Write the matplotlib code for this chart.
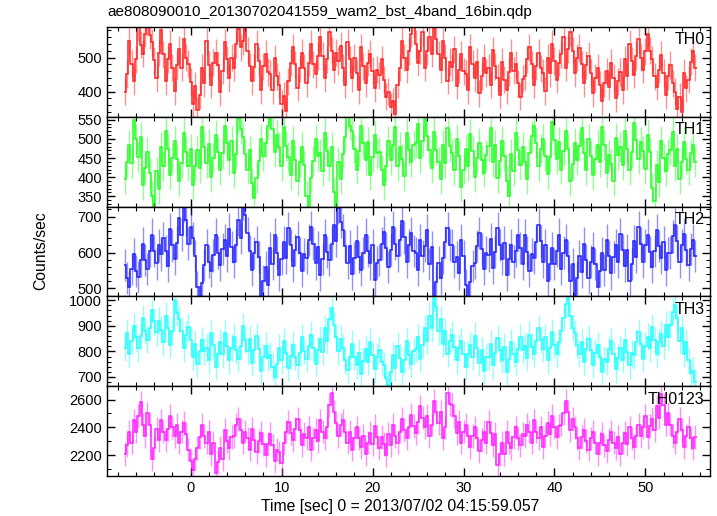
import numpy as np
import matplotlib
matplotlib.use("Agg")
import matplotlib.pyplot as plt
from matplotlib.ticker import MultipleLocator

plt.rcParams['font.family'] = ['Liberation Sans', 'DejaVu Sans']

# light curve bins: 0.25 s, first bin centre at -7.25 s
t_start = -7.25
bin_width = 0.25

th0 = [
    400, 452, 548, 482, 430, 495, 590, 538, 512, 570, 605, 566, 545, 492, 440, 515,
    580, 510, 430, 495, 540, 470, 402, 478, 525, 470, 555, 500, 482, 428, 365, 418,
    345, 390, 470, 425, 548, 478, 420, 485, 515, 478, 398, 462, 545, 495, 440, 500,
    470, 540, 585, 530, 548, 602, 520, 475, 430, 472, 540, 490, 405, 475, 512, 458,
    452, 405, 498, 445, 420, 365, 388, 342, 430, 485, 530, 480, 412, 468, 515, 470,
    425, 485, 540, 480, 452, 505, 560, 505, 440, 495, 575, 520, 465, 515, 490, 535,
    470, 420, 545, 495, 440, 500, 455, 405, 530, 475, 425, 485, 512, 462, 410, 465,
    448, 495, 435, 385, 400, 355, 372, 335, 420, 470, 550, 500, 465, 518, 570, 600,
    540, 485, 520, 575, 470, 518, 560, 512, 598, 555, 510, 465, 548, 500, 432, 488,
    472, 525, 418, 465, 510, 460, 452, 405, 530, 482, 440, 488, 395, 445, 500, 455,
    470, 420, 522, 475, 440, 390, 488, 435, 405, 458, 515, 462, 480, 425, 385, 438,
    445, 495, 530, 480, 420, 475, 515, 468, 455, 402, 500, 455, 540, 490, 435, 485,
    510, 560, 470, 525, 575, 520, 455, 500, 528, 480, 425, 478, 505, 455, 395, 440,
    470, 420, 372, 425, 460, 415, 485, 440, 380, 430, 458, 405, 495, 445, 540, 490,
    450, 505, 555, 500, 465, 518, 570, 520, 495, 445, 415, 465, 508, 455, 390, 445,
    478, 425, 400, 350, 385, 340, 455, 410, 435, 488, 520, 470,
]

th1 = [
    395, 440, 485, 438, 550, 500, 452, 505, 380, 425, 465, 410, 350, 320, 415, 370,
    480, 430, 522, 475, 405, 450, 495, 448, 390, 438, 515, 465, 428, 475, 380, 430,
    470, 425, 530, 480, 438, 488, 400, 450, 510, 465, 418, 462, 535, 490, 445, 495,
    410, 460, 555, 525, 505, 460, 420, 470, 385, 345, 398, 442, 500, 455, 490, 535,
    565, 525, 465, 510, 478, 428, 530, 482, 452, 405, 495, 445, 390, 440, 478, 432,
    350, 315, 398, 442, 500, 455, 462, 415, 515, 468, 430, 480, 360, 325, 440, 395,
    460, 505, 565, 535, 520, 475, 420, 468, 535, 490, 445, 492, 405, 452, 510, 462,
    465, 418, 380, 430, 495, 445, 485, 530, 430, 478, 448, 402, 515, 470, 440, 485,
    490, 540, 450, 495, 552, 508, 470, 425, 518, 472, 440, 395, 485, 438, 528, 482,
    462, 418, 500, 455, 375, 420, 475, 430, 512, 468, 400, 450, 490, 445, 412, 458,
    482, 528, 440, 485, 398, 442, 495, 455, 390, 352, 460, 415, 515, 470, 432, 478,
    440, 395, 462, 508, 535, 490, 430, 475, 500, 455, 408, 452, 545, 498, 448, 492,
    420, 468, 520, 475, 390, 435, 490, 445, 482, 528, 462, 418, 500, 455, 405, 448,
    485, 440, 530, 485, 410, 458, 435, 390, 502, 458, 478, 432, 520, 475, 418, 465,
    542, 498, 448, 492, 468, 422, 510, 465, 372, 338, 432, 388, 495, 450, 415, 460,
    470, 518, 430, 475, 395, 440, 492, 448, 418, 462, 485, 440,
]

th2 = [
    565, 530, 505, 555, 595, 548, 532, 578, 625, 580, 555, 605, 650, 605, 570, 620,
    595, 640, 605, 562, 665, 620, 582, 628, 695, 650, 730, 690, 625, 670, 640, 590,
    505, 462, 515, 565, 620, 575, 548, 592, 650, 600, 565, 610, 635, 590, 665, 615,
    575, 620, 690, 640, 735, 705, 655, 605, 552, 598, 630, 588, 475, 520, 560, 510,
    612, 568, 650, 600, 538, 582, 630, 585, 668, 622, 562, 608, 642, 598, 550, 595,
    585, 635, 672, 625, 570, 615, 538, 582, 648, 602, 580, 625, 678, 632, 725, 685,
    662, 618, 572, 618, 540, 585, 632, 588, 552, 598, 650, 605, 570, 620, 525, 572,
    580, 625, 658, 612, 560, 608, 672, 625, 590, 635, 688, 642, 575, 620, 655, 605,
    598, 552, 635, 590, 618, 662, 568, 615, 470, 518, 572, 528, 585, 630, 668, 622,
    620, 575, 588, 542, 635, 590, 510, 465, 518, 562, 572, 618, 655, 610, 555, 600,
    592, 638, 558, 602, 668, 622, 582, 628, 538, 582, 620, 575, 605, 650, 612, 568,
    648, 602, 550, 595, 585, 630, 678, 632, 575, 620, 522, 568, 612, 568, 605, 650,
    555, 600, 635, 590, 522, 568, 482, 528, 590, 545, 625, 580, 530, 575, 612, 568,
    505, 550, 598, 552, 635, 590, 542, 588, 620, 575, 652, 608, 562, 608, 522, 568,
    632, 588, 670, 625, 575, 620, 648, 602, 560, 605, 662, 618, 585, 630, 552, 598,
    600, 645, 678, 632, 575, 620, 652, 608, 565, 610, 635, 590,
]

th3 = [
    815, 870, 790, 840, 900, 855, 812, 860, 930, 880, 845, 892, 962, 918, 875, 920,
    885, 835, 940, 890, 825, 878, 1000, 950, 925, 878, 812, 865, 895, 845, 780, 830,
    750, 800, 845, 800, 815, 765, 872, 825, 740, 790, 835, 788, 870, 820, 765, 815,
    855, 805, 770, 820, 900, 845, 800, 850, 755, 805, 860, 810, 725, 778, 822, 775,
    785, 740, 700, 750, 815, 765, 840, 792, 735, 782, 825, 780, 745, 795, 855, 802,
    770, 820, 865, 815, 752, 805, 848, 798, 890, 840, 925, 970, 905, 855, 800, 850,
    815, 765, 728, 778, 830, 780, 745, 795, 712, 762, 808, 760, 838, 785, 730, 780,
    805, 758, 745, 695, 670, 720, 785, 735, 822, 775, 718, 765, 840, 785, 750, 800,
    810, 855, 772, 825, 890, 840, 940, 890, 1010, 975, 878, 925, 830, 880, 790, 840,
    865, 818, 765, 815, 840, 790, 740, 790, 825, 778, 862, 815, 755, 805, 725, 778,
    780, 830, 745, 795, 852, 805, 768, 818, 720, 770, 835, 790, 760, 810, 855, 805,
    822, 775, 865, 818, 790, 840, 892, 845, 810, 855, 765, 815, 875, 825, 788, 835,
    880, 930, 985, 1010, 938, 892, 870, 825, 790, 835, 760, 810, 850, 805, 748, 795,
    825, 778, 720, 770, 760, 810, 840, 790, 730, 775, 812, 768, 845, 798, 745, 792,
    785, 835, 875, 828, 772, 822, 858, 812, 895, 845, 790, 835, 868, 822, 905, 858,
    905, 955, 980, 930, 842, 892, 790, 835, 765, 715, 725, 680,
]

th0123 = [
    2210, 2275, 2370, 2290, 2450, 2370, 2480, 2580, 2420, 2340, 2500, 2420, 2170, 2250, 2390, 2310,
    2450, 2370, 2310, 2390, 2480, 2400, 2340, 2420, 2290, 2370, 2430, 2350, 2240, 2160, 2090, 2170,
    2250, 2330, 2420, 2340, 2290, 2370, 2210, 2290, 2070, 2150, 2250, 2170, 2380, 2300, 2250, 2330,
    2340, 2420, 2460, 2380, 2290, 2370, 2320, 2240, 2390, 2310, 2220, 2300, 2360, 2280, 2200, 2280,
    2350, 2270, 2160, 2240, 2220, 2140, 2290, 2370, 2440, 2360, 2310, 2390, 2460, 2380, 2270, 2350,
    2320, 2400, 2240, 2320, 2380, 2300, 2450, 2370, 2320, 2400, 2560, 2650, 2510, 2430, 2340, 2420,
    2450, 2370, 2290, 2370, 2240, 2320, 2400, 2320, 2260, 2340, 2210, 2290, 2360, 2280, 2410, 2330,
    2250, 2330, 2280, 2200, 2350, 2270, 2420, 2340, 2290, 2370, 2460, 2380, 2320, 2400, 2490, 2410,
    2360, 2440, 2550, 2470, 2400, 2480, 2340, 2420, 2590, 2510, 2430, 2510, 2320, 2400, 2650, 2570,
    2560, 2480, 2360, 2440, 2290, 2370, 2420, 2340, 2260, 2340, 2400, 2320, 2230, 2310, 2370, 2290,
    2440, 2360, 2270, 2350, 2130, 2210, 2290, 2210, 2370, 2290, 2250, 2330, 2400, 2320, 2270, 2350,
    2340, 2420, 2370, 2290, 2450, 2370, 2320, 2400, 2260, 2340, 2430, 2350, 2480, 2400, 2330, 2410,
    2420, 2500, 2590, 2510, 2380, 2460, 2400, 2320, 2250, 2330, 2380, 2300, 2240, 2320, 2370, 2290,
    2210, 2290, 2350, 2270, 2230, 2310, 2370, 2290, 2250, 2330, 2210, 2290, 2360, 2280, 2400, 2320,
    2260, 2340, 2420, 2340, 2400, 2480, 2330, 2410, 2460, 2380, 2550, 2470, 2640, 2560, 2420, 2500,
    2420, 2340, 2290, 2370, 2460, 2380, 2260, 2340, 2400, 2320, 2250, 2330,
]

labels = ['TH0', 'TH1', 'TH2', 'TH3', 'TH0123']
series = [th0, th1, th2, th3, th0123]
errors = [40, 39, 45, 52, 85]          # typical 1-sigma error per panel
colors = ['#ff2020', '#20ff20', '#2020ff', '#20ffff', '#ff20ff']
ylims = [(326, 590), (323, 558), (478, 728), (664, 1015), (2050, 2696)]
majors = [100, 50, 100, 100, 200]
minors = [20, 10, 20, 20, 100]

fig = plt.figure(figsize=(7.17, 5.16), dpi=100)

W, H = 717.0, 516.0
left, right = 107 / W, 710 / W
top_px, bot_px = 27.0, 476.0
ph = (bot_px - top_px) / 5

for i in range(5):
    y = np.array(series[i], dtype=float)
    n = len(y)
    t = t_start + bin_width * np.arange(n)
    edges = t_start - bin_width / 2 + bin_width * np.arange(n + 1)

    y0 = 1 - (top_px + ph * (i + 1)) / H
    ax = fig.add_axes([left, y0, right - left, ph / H])

    ax.vlines(t, y - errors[i], y + errors[i], color=colors[i], lw=1.0, alpha=0.5)
    ax.stairs(y, edges, baseline=None, color=colors[i], lw=1.1)

    ax.set_xlim(-9.2, 57.1)
    ax.set_ylim(*ylims[i])
    ax.xaxis.set_major_locator(MultipleLocator(10))
    ax.xaxis.set_minor_locator(MultipleLocator(2))
    ax.yaxis.set_major_locator(MultipleLocator(majors[i]))
    ax.yaxis.set_minor_locator(MultipleLocator(minors[i]))
    ax.tick_params(which='both', direction='in', top=True, right=True, labelsize=10.5)
    ax.tick_params(which='major', length=6, width=1)
    ax.tick_params(which='minor', length=3, width=0.8)
    for s in ax.spines.values():
        s.set_linewidth(1.0)
    if i < 4:
        ax.tick_params(labelbottom=False)

    ax.text(0.991, 0.94, labels[i], transform=ax.transAxes, ha='right', va='top',
            fontsize=11.5)

fig.text(left, 1 - 12 / H, 'ae808090010_20130702041559_wam2_bst_4band_16bin.qdp',
         ha='left', va='center', fontsize=11)
fig.text(41 / W, 1 - 251 / H, 'Counts/sec', rotation=90, ha='center', va='center',
         fontsize=11.3)
fig.text(400 / W, 1 - 506 / H, 'Time [sec] 0 = 2013/07/02 04:15:59.057',
         ha='center', va='center', fontsize=11.3)

fig.savefig('out.png', dpi=100)
